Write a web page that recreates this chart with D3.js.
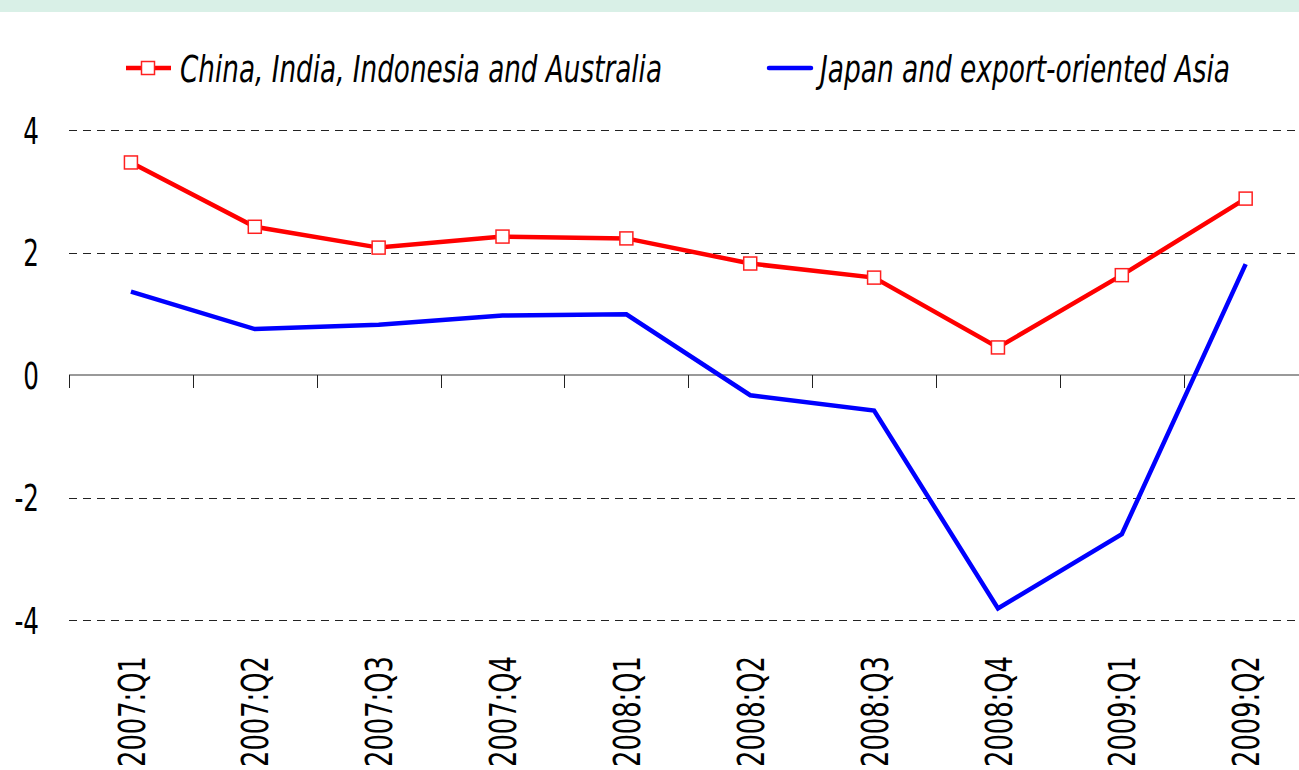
<!DOCTYPE html>
<html>
<head>
<meta charset="utf-8">
<script src="https://cdn.jsdelivr.net/npm/d3@7"></script>
<style>
  body { margin: 0; background: #fff; }
  text { font-family: "Liberation Sans Narrow", "DejaVu Sans Condensed", sans-serif; }
</style>
</head>
<body>
<div id="chart"></div>
<script>
// quarters along the x axis
var quarters = ["2007:Q1", "2007:Q2", "2007:Q3", "2007:Q4", "2008:Q1",
  "2008:Q2", "2008:Q3", "2008:Q4", "2009:Q1", "2009:Q2"];
// China, India, Indonesia and Australia
var chinaGroup = [3.47, 2.42, 2.08, 2.26, 2.23, 1.82, 1.59, 0.45, 1.63, 2.88];
// Japan and export-oriented Asia
var japanGroup = [1.36, 0.75, 0.82, 0.97, 0.99, -0.33, -0.58, -3.81, -2.60, 1.81];
var yTicks = [4, 2, 0, -2, -4];
var seriesNames = ["China, India, Indonesia and Australia", "Japan and export-oriented Asia"];

var svgWidth = 1299, svgHeight = 770;

var svg = d3.select("#chart").append("svg")
  .attr("width", svgWidth)
  .attr("height", svgHeight);

// light green strip along the top
svg.append("rect")
  .attr("x", 0).attr("y", 0)
  .attr("width", svgWidth).attr("height", 12)
  .attr("fill", "#d9f0e7");

var x = d3.scaleBand().domain(quarters).range([69, 69 + 10 * 123.86]);
var y = d3.scaleLinear().domain([-4, 4]).range([620, 130]);

// dashed gridlines
svg.append("g").selectAll("line")
  .data(yTicks.filter(d => d !== 0))
  .enter().append("line")
  .attr("x1", 69).attr("x2", svgWidth)
  .attr("y1", d => Math.round(y(d)) + 0.5).attr("y2", d => Math.round(y(d)) + 0.5)
  .attr("stroke", "#222")
  .attr("stroke-width", 1)
  .attr("stroke-dasharray", "8,6");

// y labels, squeezed to look condensed
svg.append("g").selectAll("text")
  .data(yTicks)
  .enter().append("text")
  .attr("transform", d => `translate(39, ${y(d)}) scale(0.72, 1)`)
  .attr("dy", "0.36em")
  .attr("text-anchor", "end")
  .attr("font-size", 38)
  .attr("fill", "#000")
  .text(d => d);

// zero axis with ticks at band edges
var xAxis = svg.append("g").attr("transform", `translate(0, ${y(0)})`);
xAxis.append("line")
  .attr("x1", 69).attr("x2", svgWidth)
  .attr("stroke", "#777").attr("stroke-width", 1.5);
xAxis.selectAll(".tick")
  .data(quarters)
  .enter().append("line")
  .attr("x1", d => Math.round(x(d)) + 0.5).attr("x2", d => Math.round(x(d)) + 0.5)
  .attr("y1", 0).attr("y2", 13)
  .attr("stroke", "#222").attr("stroke-width", 1);

// rotated quarter labels
svg.append("g").selectAll("text")
  .data(quarters)
  .enter().append("text")
  .attr("transform", d => `translate(${x(d) + x.bandwidth() / 2}, 656) rotate(-90)`)
  .attr("dy", "0.36em")
  .attr("text-anchor", "end")
  .attr("font-size", 38)
  .attr("textLength", 111).attr("lengthAdjust", "spacingAndGlyphs")
  .attr("fill", "#000")
  .text(d => d);

var line = d3.line()
  .x((d, i) => x(quarters[i]) + x.bandwidth() / 2)
  .y(d => y(d));

svg.append("path")
  .datum(japanGroup)
  .attr("d", line)
  .attr("fill", "none")
  .attr("stroke", "#0000ff")
  .attr("stroke-width", 4.5);

svg.append("path")
  .datum(chinaGroup)
  .attr("d", line)
  .attr("fill", "none")
  .attr("stroke", "#ff0000")
  .attr("stroke-width", 4.5);

svg.append("g").selectAll("rect")
  .data(chinaGroup)
  .enter().append("rect")
  .attr("x", (d, i) => x(quarters[i]) + x.bandwidth() / 2 - 6.5)
  .attr("y", d => y(d) - 6.5)
  .attr("width", 13).attr("height", 13)
  .attr("fill", "#fff")
  .attr("stroke", "#ff2020")
  .attr("stroke-width", 1.5);

// legend
var legend = svg.append("g");
legend.append("line")
  .attr("x1", 126).attr("x2", 171).attr("y1", 68).attr("y2", 68)
  .attr("stroke", "#ff0000").attr("stroke-width", 4.5);
legend.append("rect")
  .attr("x", 141.5).attr("y", 61.5).attr("width", 13).attr("height", 13)
  .attr("fill", "#fff").attr("stroke", "#ff2020").attr("stroke-width", 1.5);
legend.append("text")
  .attr("x", 180).attr("y", 68).attr("dy", "0.36em")
  .attr("font-size", 38).attr("font-style", "italic")
  .attr("textLength", 482).attr("lengthAdjust", "spacingAndGlyphs")
  .text(seriesNames[0]);

legend.append("line")
  .attr("x1", 769).attr("x2", 811).attr("y1", 68).attr("y2", 68)
  .attr("stroke", "#0000ff").attr("stroke-width", 4.5).attr("stroke-linecap", "round");
legend.append("text")
  .attr("x", 820).attr("y", 68).attr("dy", "0.36em")
  .attr("font-size", 38).attr("font-style", "italic")
  .attr("textLength", 410).attr("lengthAdjust", "spacingAndGlyphs")
  .text(seriesNames[1]);
</script>
</body>
</html>
